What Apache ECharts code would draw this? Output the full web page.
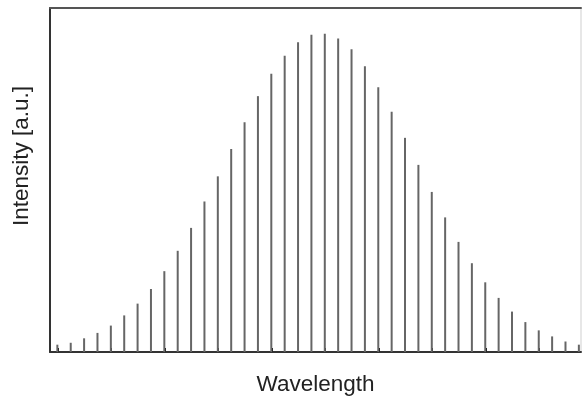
<!DOCTYPE html>
<html>
<head>
    <meta charset="utf-8" />
    <title>Intensity vs Wavelength</title>
    <script src="https://cdn.jsdelivr.net/npm/echarts@6/dist/echarts.min.js"></script>
    <style>
        html, body { margin: 0; padding: 0; background: #fff; }
        #main { width: 585px; height: 401px; }
    </style>
</head>
<body>
<div id="main"></div>
<script type="text/javascript">
    // line index (wavelength step) and relative intensity
    var lineIndex = [0, 1, 2, 3, 4, 5, 6, 7, 8, 9, 10, 11, 12, 13, 14, 15, 16, 17, 18, 19,
        20, 21, 22, 23, 24, 25, 26, 27, 28, 29, 30, 31, 32, 33, 34, 35, 36, 37, 38, 39];
    var intensity = [2.3, 2.9, 4.3, 6.0, 8.3, 11.5, 15.2, 19.8, 25.4, 31.8,
        39.0, 47.3, 55.2, 63.8, 72.2, 80.4, 87.4, 93.1, 97.3, 99.7,
        100, 98.5, 95.1, 89.8, 83.2, 75.5, 67.3, 58.8, 50.3, 42.3,
        34.6, 27.9, 21.9, 17.0, 12.7, 9.4, 6.8, 4.9, 3.3, 2.3];
    var tickValues = [0, 4, 8, 12, 16, 20, 24, 28, 32, 36];

    var points = [];
    for (var i = 0; i < lineIndex.length; i++) {
        points.push([lineIndex[i], intensity[i]]);
    }

    var myChart = echarts.init(document.getElementById('main'));

    var option = {
        animation: false,
        textStyle: { fontFamily: 'Liberation Sans, Arial, sans-serif' },
        grid: {
            left: 50, right: 4, top: 8, bottom: 48,
            show: true, borderColor: '#cfcfcf', borderWidth: 1
        },
        xAxis: [{
            type: 'value',
            min: -0.55,
            max: 39.16,
            name: 'Wavelength',
            nameLocation: 'middle',
            nameGap: 21,
            nameTextStyle: { fontSize: 22.5, color: '#222' },
            axisLine: { show: true, onZero: false, lineStyle: { color: '#333', width: 2 } },
            axisTick: {
                show: true, inside: true, length: 4,
                customValues: tickValues,
                lineStyle: { color: '#111', width: 2 }
            },
            axisLabel: { show: false },
            splitLine: { show: false }
        }, {
            type: 'value',
            position: 'top',
            min: -0.55,
            max: 39.16,
            axisLine: { show: true, onZero: false, lineStyle: { color: '#555', width: 2 } },
            axisTick: { show: false },
            axisLabel: { show: false },
            splitLine: { show: false }
        }],
        yAxis: {
            type: 'value',
            min: 0,
            max: 108.1,
            name: 'Intensity [a.u.]',
            nameLocation: 'middle',
            nameRotate: 90,
            nameGap: 17,
            nameTextStyle: { fontSize: 22.5, color: '#222', padding: [0, 0, 0, 48] },
            axisLine: { show: true, onZero: false, lineStyle: { color: '#333', width: 2 } },
            axisTick: { show: false },
            axisLabel: { show: false },
            splitLine: { show: false }
        },
        series: [{
            type: 'bar',
            barWidth: 2,
            itemStyle: { color: '#666' },
            data: points
        }]
    };

    myChart.setOption(option);
</script>
</body>
</html>
